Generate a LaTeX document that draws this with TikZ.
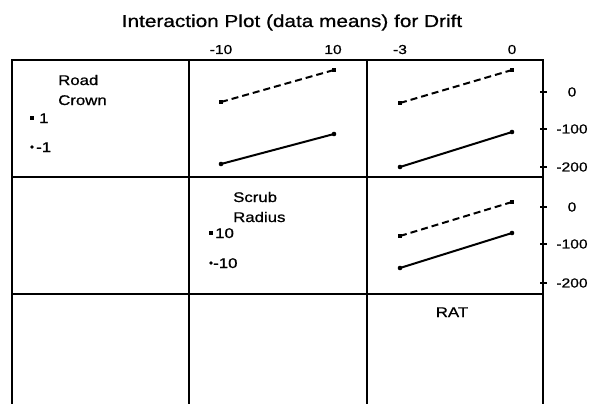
\documentclass[tikz,border=0pt]{standalone}
\usepackage{fontspec}
\setmainfont{Liberation Sans}[FakeStretch=1.2, FakeBold=0.8]
\begin{document}
\begin{tikzpicture}[x=1pt,y=-1pt,
  gridline/.style={line width=2.2pt},
  ser/.style={line width=2pt},
  dashser/.style={ser, dash pattern=on 7pt off 4pt},
  sq/.style={fill=black, rectangle, minimum size=4.4pt, inner sep=0pt},
  dot/.style={fill=black, circle, minimum size=4.6pt, inner sep=0pt},
  lsq/.style={fill=black, rectangle, minimum size=3.8pt, inner sep=0pt},
  ldot/.style={fill=black, circle, minimum size=3.6pt, inner sep=0pt},
  lab/.style={font=\fontsize{13}{15}\selectfont, inner sep=0pt},
  toplab/.style={lab, anchor=base},
  leg/.style={font=\fontsize{14}{16}\selectfont, inner sep=0pt, anchor=base west},
  tick/.style={line width=1.4pt}
]
\useasboundingbox (0,0) rectangle (589,404);

% grid
\draw[gridline] (12,404) -- (12,60) -- (543,60) -- (543,404);
\draw[gridline] (189,60) -- (189,404);
\draw[gridline] (367,60) -- (367,404);
\draw[gridline] (12,177) -- (543,177);
\draw[gridline] (12,294) -- (543,294);

% title
\node[font=\fontsize{17.3}{20}\selectfont, anchor=base, inner sep=0pt] (title) at (292,27) {Interaction Plot (data means) for Drift};

% top axis labels
\node[toplab] (tx1) at (221,54) {-10};
\node[toplab] (tx2) at (333,54) {10};
\node[toplab] (tx3) at (400,54) {-3};
\node[toplab] (tx4) at (512,54) {0};

% right axis ticks and labels
\foreach \y/\t/\n in {92/0/a, 129/-100/b, 167/-200/c, 207/0/d, 244/-100/e, 283/-200/f}{
  \draw[tick] (540,\y) -- (547,\y);
  \node[lab] (ry\n) at (572,\y) {\t};
}

% legend: Road Crown
\node[leg] (rc1) at (58,85) {Road};
\node[leg] (rc2) at (58,105) {Crown};
\node[lsq] (rcm1) at (32,118) {};
\node[leg] (rcl1) at (39,123) {1};
\node[ldot] (rcm2) at (32,147) {};
\node[leg] (rcl2) at (36,152) {-1};

% legend: Scrub Radius
\node[leg] (sr1) at (233,202) {Scrub};
\node[leg] (sr2) at (233,222) {Radius};
\node[lsq] (srm1) at (211,233) {};
\node[leg] (srl1) at (215,238) {10};
\node[ldot] (srm2) at (211,263) {};
\node[leg] (srl2) at (213,268) {-10};

% RAT label
\node[leg, anchor=base] (rat) at (452,317) {RAT};

% panel row1 col2
\node[sq] (a1) at (221,102) {};
\node[sq] (a2) at (334,70) {};
\node[dot] (b1) at (221,164) {};
\node[dot] (b2) at (334,134) {};
\draw[dashser] (a1.center) -- (a2.center);
\draw[ser] (b1.center) -- (b2.center);

% panel row1 col3
\node[sq] (c1) at (400,103) {};
\node[sq] (c2) at (512,70) {};
\node[dot] (d1) at (400,167) {};
\node[dot] (d2) at (512,132) {};
\draw[dashser] (c1.center) -- (c2.center);
\draw[ser] (d1.center) -- (d2.center);

% panel row2 col3
\node[sq] (e1) at (400,236) {};
\node[sq] (e2) at (512,202) {};
\node[dot] (f1) at (400,268) {};
\node[dot] (f2) at (512,233) {};
\draw[dashser] (e1.center) -- (e2.center);
\draw[ser] (f1.center) -- (f2.center);
\end{tikzpicture}
\end{document}
